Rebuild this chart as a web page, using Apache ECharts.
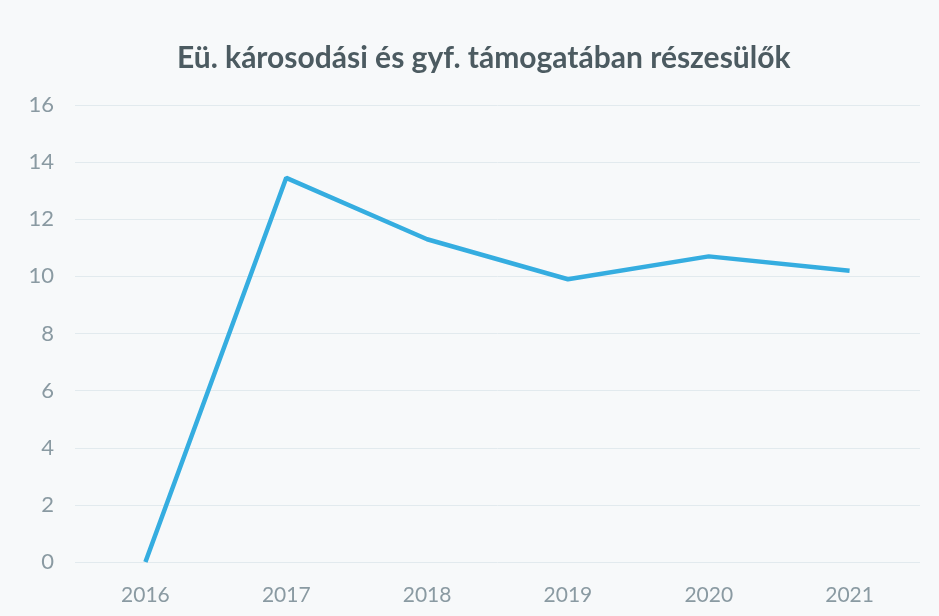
<!DOCTYPE html>
<html>
<head>
<meta charset="utf-8">
<script src="https://cdn.jsdelivr.net/npm/echarts@6/dist/echarts.min.js"></script>
<style>
  html, body { margin: 0; padding: 0; background: #f7f9fa; }
  #chart { width: 939px; height: 616px; }
</style>
</head>
<body>
<div id="chart"></div>
<script>
var chartTitle = 'Eü. károsodási és gyf. támogatában részesülők';
var years = ['2016', '2017', '2018', '2019', '2020', '2021'];
var values = [0, 13.45, 11.3, 9.9, 10.7, 10.2];
var yTicks = [0, 16, 2]; // min, max, step

var chart = echarts.init(document.getElementById('chart'));
var option = {
  backgroundColor: '#f7f9fa',
  title: {
    text: chartTitle,
    left: 172,
    top: 38,
    textStyle: {
      color: '#4c5b61',
      fontSize: 30,
      fontWeight: 'bold',
      fontFamily: 'Lato'
    }
  },
  grid: {
    left: 75,
    right: 19,
    top: 105,
    bottom: 54
  },
  xAxis: {
    type: 'category',
    data: years,
    boundaryGap: true,
    axisLine: { show: false },
    axisTick: { show: false },
    axisLabel: {
      color: '#8a9aa2',
      fontSize: 21,
      fontFamily: 'Lato',
      margin: 23
    }
  },
  yAxis: {
    type: 'value',
    min: yTicks[0],
    max: yTicks[1],
    interval: yTicks[2],
    axisLine: { show: false },
    axisTick: { show: false },
    axisLabel: {
      color: '#8a9aa2',
      fontSize: 22,
      fontFamily: 'Lato',
      margin: 21
    },
    splitLine: {
      lineStyle: { color: '#e2eaee', width: 1 }
    }
  },
  series: [
    {
      type: 'line',
      data: values,
      symbol: 'none',
      lineStyle: { color: '#35ade0', width: 4.5 },
      animation: false
    }
  ]
};
chart.setOption(option);
</script>
</body>
</html>
